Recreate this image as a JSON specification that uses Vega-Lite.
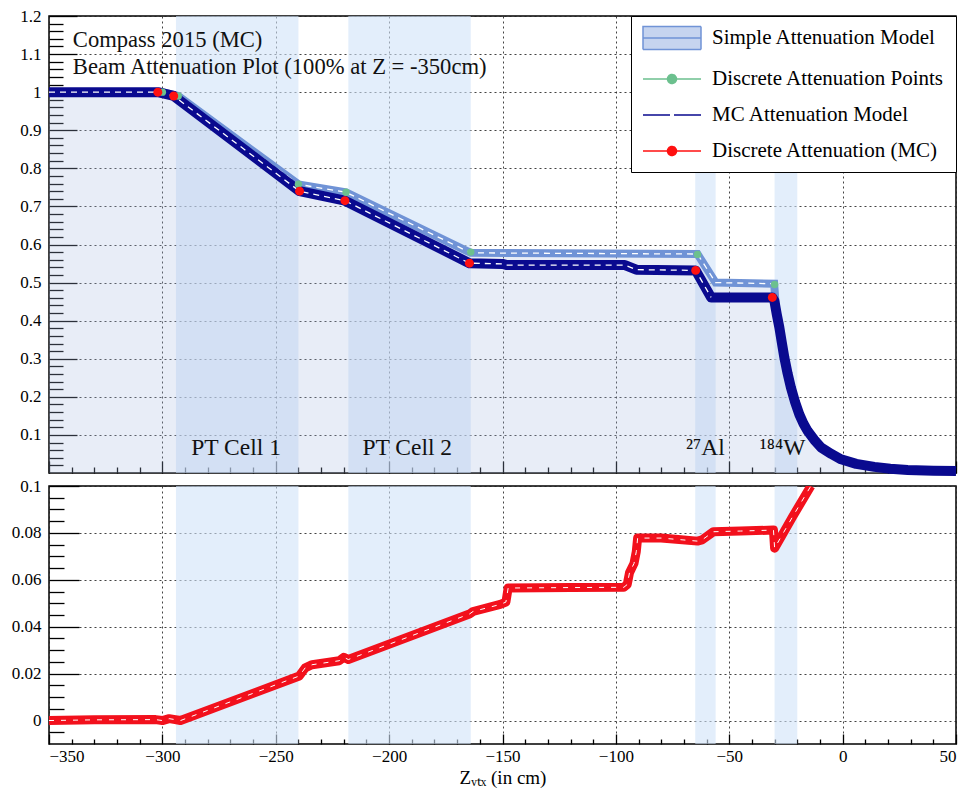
{
  "$schema": "https://vega.github.io/schema/vega-lite/v6.json",
  "padding": {"left": 0, "top": 6, "right": 0, "bottom": 0},
  "spacing": 13,
  "bounds": "flush",
  "config": {
    "font": "Liberation Serif",
    "view": {"stroke": "black", "strokeWidth": 1.5},
    "axis": {"domain": false, "tickColor": "black", "tickWidth": 1.3, "labelColor": "black", "labelFontSize": 17, "labelFont": "Liberation Serif", "titleFont": "Liberation Serif", "gridColor": "#222222", "gridDash": [2, 3], "gridWidth": 1, "gridOpacity": 0.85, "title": null}
  },
  "datasets": {
    "bands": [
      {"x1": -294, "x2": -240},
      {"x1": -218, "x2": -164},
      {"x1": -65, "x2": -56},
      {"x1": -30, "x2": -20}
    ],
    "simple": [
      {"x": -350, "y": 1.0},
      {"x": -300, "y": 1.0},
      {"x": -293, "y": 0.99},
      {"x": -240, "y": 0.758},
      {"x": -219, "y": 0.737},
      {"x": -164, "y": 0.578},
      {"x": -64, "y": 0.575},
      {"x": -56, "y": 0.5},
      {"x": -30.2, "y": 0.497},
      {"x": -29.5, "y": 0.44},
      {"x": -29, "y": 0.415},
      {"x": -27.9, "y": 0.382},
      {"x": -26.8, "y": 0.342},
      {"x": -25.7, "y": 0.303},
      {"x": -24.3, "y": 0.262},
      {"x": -22.8, "y": 0.224},
      {"x": -21, "y": 0.187},
      {"x": -19.1, "y": 0.154},
      {"x": -17.3, "y": 0.13},
      {"x": -15.4, "y": 0.11},
      {"x": -12.5, "y": 0.087},
      {"x": -9.5, "y": 0.067},
      {"x": -5, "y": 0.05},
      {"x": -0.7, "y": 0.036},
      {"x": 6, "y": 0.024},
      {"x": 14, "y": 0.016},
      {"x": 21, "y": 0.011},
      {"x": 28.7, "y": 0.008},
      {"x": 40, "y": 0.006},
      {"x": 50, "y": 0.005}
    ],
    "mc": [
      {"x": -350, "y": 1.0},
      {"x": -302, "y": 1.0},
      {"x": -295, "y": 0.99},
      {"x": -239.5, "y": 0.74},
      {"x": -219.5, "y": 0.715},
      {"x": -164.6, "y": 0.551},
      {"x": -150, "y": 0.549},
      {"x": -148, "y": 0.546},
      {"x": -96, "y": 0.546},
      {"x": -91, "y": 0.534},
      {"x": -64.8, "y": 0.532},
      {"x": -58, "y": 0.461},
      {"x": -31, "y": 0.461},
      {"x": -30.1, "y": 0.452},
      {"x": -29, "y": 0.415},
      {"x": -27.9, "y": 0.382},
      {"x": -26.8, "y": 0.342},
      {"x": -25.7, "y": 0.303},
      {"x": -24.3, "y": 0.262},
      {"x": -22.8, "y": 0.224},
      {"x": -21, "y": 0.187},
      {"x": -19.1, "y": 0.154},
      {"x": -17.3, "y": 0.13},
      {"x": -15.4, "y": 0.11},
      {"x": -12.5, "y": 0.087},
      {"x": -9.5, "y": 0.067},
      {"x": -5, "y": 0.05},
      {"x": -0.7, "y": 0.036},
      {"x": 6, "y": 0.024},
      {"x": 14, "y": 0.016},
      {"x": 21, "y": 0.011},
      {"x": 28.7, "y": 0.008},
      {"x": 40, "y": 0.006},
      {"x": 50, "y": 0.005}
    ],
    "greenPts": [
      {"x": -300, "y": 1.0},
      {"x": -293, "y": 0.99},
      {"x": -240, "y": 0.758},
      {"x": -219, "y": 0.737},
      {"x": -164, "y": 0.58},
      {"x": -64, "y": 0.574},
      {"x": -30, "y": 0.495}
    ],
    "redPts": [
      {"x": -302, "y": 1.0},
      {"x": -295, "y": 0.99},
      {"x": -239.5, "y": 0.74},
      {"x": -219.5, "y": 0.715},
      {"x": -164.6, "y": 0.551},
      {"x": -64.8, "y": 0.532},
      {"x": -31, "y": 0.461}
    ],
    "labels": [
      {"x": -267.5, "y": 0.066, "text": "PT Cell 1"},
      {"x": -192, "y": 0.066, "text": "PT Cell 2"},
      {"x": -60.5, "y": 0.066, "text": "²⁷Al"},
      {"x": -26.5, "y": 0.066, "text": "¹⁸⁴W"}
    ],
    "titles": [
      {"x": -339.5, "y": 1.137, "text": "Compass 2015 (MC)"},
      {"x": -339.5, "y": 1.066, "text": "Beam Attenuation Plot (100% at Z = -350cm)"}
    ],
    "ratio": [
      {"x": -350, "y": 0.0},
      {"x": -330, "y": 0.0003},
      {"x": -303, "y": 0.0004},
      {"x": -300, "y": 0.0},
      {"x": -297, "y": 0.0008},
      {"x": -295, "y": 0.0005},
      {"x": -292, "y": 0.0},
      {"x": -239.6, "y": 0.019},
      {"x": -237, "y": 0.0225},
      {"x": -234, "y": 0.0238},
      {"x": -222, "y": 0.0255},
      {"x": -220, "y": 0.027},
      {"x": -218, "y": 0.026},
      {"x": -164.6, "y": 0.0454},
      {"x": -163, "y": 0.0465},
      {"x": -151, "y": 0.0495},
      {"x": -148.5, "y": 0.0505},
      {"x": -147.5, "y": 0.0565},
      {"x": -120, "y": 0.0567},
      {"x": -96.5, "y": 0.0568},
      {"x": -95, "y": 0.058},
      {"x": -94, "y": 0.063},
      {"x": -92, "y": 0.067},
      {"x": -91, "y": 0.072},
      {"x": -90.4, "y": 0.0778},
      {"x": -80, "y": 0.0778},
      {"x": -64, "y": 0.0765},
      {"x": -62, "y": 0.077},
      {"x": -57, "y": 0.0805},
      {"x": -45, "y": 0.0808},
      {"x": -30.5, "y": 0.0812},
      {"x": -30, "y": 0.0735},
      {"x": -22, "y": 0.087},
      {"x": -14, "y": 0.1}
    ]
  },
  "vconcat": [
    {
      "width": 907,
      "height": 457,
      "resolve": {"axis": {"x": "independent", "y": "independent"}},
      "layer": [
        {
          "data": {"name": "bands"},
          "mark": {"type": "rect", "color": "#d0e3f8", "opacity": 0.6},
          "encoding": {
            "x": {"field": "x1", "type": "quantitative", "scale": {"domain": [-350, 50], "nice": false, "zero": false}, "axis": null},
            "x2": {"field": "x2"}
          }
        },
        {
          "data": {"name": "simple"},
          "mark": {"type": "area", "color": "#a5b8e2", "opacity": 0.26},
          "encoding": {
            "x": {"field": "x", "type": "quantitative", "scale": {"domain": [-350, 50], "nice": false, "zero": false},
              "axis": {"orient": "bottom", "values": [-350, -300, -250, -200, -150, -100, -50, 0, 50], "tickSize": -12, "labels": false, "grid": true}},
            "y": {"field": "y", "type": "quantitative", "scale": {"domain": [0, 1.2], "nice": false},
              "axis": {"orient": "left", "values": [0.1, 0.2, 0.3, 0.4, 0.5, 0.6, 0.7, 0.8, 0.9, 1, 1.1, 1.2], "format": "~g", "tickSize": -28, "labelPadding": 36, "labelFont": "Liberation Serif", "labelFontSize": 17, "grid": true, "minExtent": 48, "maxExtent": 48}}
          }
        },
        {
          "data": {"name": "simple"},
          "mark": {"type": "line", "strokeWidth": 8},
          "encoding": {
            "x": {"field": "x", "type": "quantitative",
              "axis": {"orient": "bottom", "values": [-340, -330, -320, -310, -290, -280, -270, -260, -240, -230, -220, -210, -190, -180, -170, -160, -140, -130, -120, -110, -90, -80, -70, -60, -40, -30, -20, -10, 10, 20, 30, 40], "tickSize": -6, "labels": false, "grid": false}},
            "y": {"field": "y", "type": "quantitative",
              "axis": {"orient": "left", "values": [0.02, 0.04, 0.06, 0.08, 0.12, 0.14, 0.16, 0.18, 0.22, 0.24, 0.26, 0.28, 0.32, 0.34, 0.36, 0.38, 0.42, 0.44, 0.46, 0.48, 0.52, 0.54, 0.56, 0.58, 0.62, 0.64, 0.66, 0.68, 0.72, 0.74, 0.76, 0.78, 0.82, 0.84, 0.86, 0.88, 0.92, 0.94, 0.96, 0.98, 1.02, 1.04, 1.06, 1.08, 1.12, 1.14, 1.16, 1.18], "tickSize": -14, "labels": false, "grid": false, "minExtent": 48, "maxExtent": 48}},
            "color": {
              "datum": "Simple Attenuation Model",
              "type": "nominal",
              "scale": {
                "domain": ["Simple Attenuation Model", "Discrete Attenuation Points", "MC Attenuation Model", "Discrete Attenuation (MC)"],
                "range": ["#7093d6", "#6cc08e", "#0a0a8f", "#ff1010"]
              },
              "legend": {
                "title": null,
                "orient": "top-right",
                "offset": 0,
                "padding": 11,
                "strokeColor": "black",
                "fillColor": "white",
                "labelFont": "Liberation Serif",
                "labelFontSize": 21,
                "labelColor": "black",
                "labelLimit": 400,
                "symbolSize": 400,
                "symbolOffset": 19,
                "labelOffset": 29,
                "rowPadding": 15,
                "encode": {
                  "symbols": {
                    "enter": {
                      "fill": {"signal": "datum.value === 'Simple Attenuation Model' ? '#cdd9f1' : datum.value === 'Discrete Attenuation Points' ? '#6cc08e' : datum.value === 'MC Attenuation Model' ? 'transparent' : '#ff1010'"}
                    },
                    "update": {
                      "shape": {"signal": "datum.value === 'Simple Attenuation Model' ? 'M-2.9,-1.15H2.9V1.15H-2.9ZM-2.9,0H2.9' : datum.value === 'MC Attenuation Model' ? 'M-2.9,0H2.9' : 'M-2.9,0H2.9M-0.45,0A0.45,0.45 0 1,1 0.45,0A0.45,0.45 0 1,1 -0.45,0Z'"},
                      "fill": {"signal": "datum.value === 'Simple Attenuation Model' ? '#cdd9f1' : datum.value === 'Discrete Attenuation Points' ? '#6cc08e' : datum.value === 'MC Attenuation Model' ? 'transparent' : '#ff1010'"},
                      "stroke": {"signal": "datum.value === 'Simple Attenuation Model' ? '#8aa5e0' : datum.value === 'Discrete Attenuation Points' ? '#6cc08e' : datum.value === 'MC Attenuation Model' ? '#2323cc' : '#ff5a4a'"},
                      "strokeWidth": {"value": 1.5},
                      "strokeDash": {"signal": "datum.value === 'MC Attenuation Model' ? [27, 4] : [1, 0]"},
                      "opacity": {"value": 1},
                      "fillOpacity": {"signal": "datum.value === 'Simple Attenuation Model' ? 0.4 : 1"}
                    }
                  }
                }
              }
            }
          }
        },
        {
          "data": {"name": "simple"},
          "mark": {"type": "line", "strokeWidth": 1.3, "color": "white", "strokeDash": [6, 5]},
          "transform": [{"filter": "datum.x < -30"}],
          "encoding": {
            "x": {"field": "x", "type": "quantitative", "axis": null},
            "y": {"field": "y", "type": "quantitative", "axis": null}
          }
        },
        {
          "data": {"name": "mc"},
          "mark": {"type": "line", "strokeWidth": 10, "strokeJoin": "round"},
          "encoding": {
            "x": {"field": "x", "type": "quantitative", "axis": null},
            "y": {"field": "y", "type": "quantitative", "axis": null},
            "color": {"datum": "MC Attenuation Model", "type": "nominal"}
          }
        },
        {
          "data": {"name": "mc"},
          "mark": {"type": "line", "strokeWidth": 1.3, "color": "white", "strokeDash": [6, 5]},
          "transform": [{"filter": "datum.x < -31"}],
          "encoding": {
            "x": {"field": "x", "type": "quantitative", "axis": null},
            "y": {"field": "y", "type": "quantitative", "axis": null}
          }
        },
        {
          "data": {"name": "greenPts"},
          "mark": {"type": "point", "filled": true, "size": 55, "opacity": 1},
          "encoding": {
            "x": {"field": "x", "type": "quantitative", "axis": null},
            "y": {"field": "y", "type": "quantitative", "axis": null},
            "color": {"datum": "Discrete Attenuation Points", "type": "nominal"}
          }
        },
        {
          "data": {"name": "redPts"},
          "mark": {"type": "point", "filled": true, "size": 80, "opacity": 1},
          "encoding": {
            "x": {"field": "x", "type": "quantitative", "axis": null},
            "y": {"field": "y", "type": "quantitative", "axis": null},
            "color": {"datum": "Discrete Attenuation (MC)", "type": "nominal"}
          }
        },
        {
          "data": {"name": "labels"},
          "mark": {"type": "text", "fontSize": 23.5, "color": "#111111", "align": "center", "baseline": "middle"},
          "encoding": {
            "x": {"field": "x", "type": "quantitative", "axis": null},
            "y": {"field": "y", "type": "quantitative", "axis": null},
            "text": {"field": "text"}
          }
        },
        {
          "data": {"name": "titles"},
          "mark": {"type": "text", "fontSize": 22.6, "color": "#111111", "align": "left", "baseline": "middle"},
          "encoding": {
            "x": {"field": "x", "type": "quantitative", "axis": null},
            "y": {"field": "y", "type": "quantitative", "axis": null},
            "text": {"field": "text"}
          }
        }
      ]
    },
    {
      "width": 907,
      "height": 258,
      "resolve": {"axis": {"x": "independent", "y": "independent"}},
      "layer": [
        {
          "data": {"name": "bands"},
          "mark": {"type": "rect", "color": "#d0e3f8", "opacity": 0.6},
          "encoding": {
            "x": {"field": "x1", "type": "quantitative", "scale": {"domain": [-350, 50], "nice": false, "zero": false}, "axis": null},
            "x2": {"field": "x2"}
          }
        },
        {
          "data": {"name": "ratio"},
          "mark": {"type": "line", "strokeWidth": 9, "color": "#f2101c", "clip": true, "strokeJoin": "round"},
          "encoding": {
            "x": {"field": "x", "type": "quantitative", "scale": {"domain": [-350, 50], "nice": false, "zero": false},
              "axis": {"orient": "bottom", "values": [-350, -300, -250, -200, -150, -100, -50, 0, 50], "tickSize": -10, "labelPadding": 14, "grid": true, "labelFont": "Liberation Serif", "labelFontSize": 17, "title": "Zᵥₜₓ (in cm)", "titleFont": "Liberation Serif", "titleFontSize": 19, "titleFontWeight": "normal", "titleColor": "black", "titlePadding": 4}},
            "y": {"field": "y", "type": "quantitative", "scale": {"domain": [-0.01, 0.1], "nice": false, "zero": false},
              "axis": {"orient": "left", "values": [0, 0.02, 0.04, 0.06, 0.08, 0.1], "format": "~g", "tickSize": -30, "labelPadding": 38, "labelFont": "Liberation Serif", "labelFontSize": 17, "grid": true, "minExtent": 48, "maxExtent": 48}}
          }
        },
        {
          "data": {"name": "ratio"},
          "mark": {"type": "line", "strokeWidth": 1, "color": "white", "strokeDash": [5, 7], "clip": true},
          "encoding": {
            "x": {"field": "x", "type": "quantitative",
              "axis": {"orient": "bottom", "values": [-340, -330, -320, -310, -290, -280, -270, -260, -240, -230, -220, -210, -190, -180, -170, -160, -140, -130, -120, -110, -90, -80, -70, -60, -40, -30, -20, -10, 10, 20, 30, 40], "tickSize": -5, "labels": false, "grid": false, "title": null}},
            "y": {"field": "y", "type": "quantitative",
              "axis": {"orient": "left", "values": [-0.005, 0.005, 0.01, 0.015, 0.025, 0.03, 0.035, 0.045, 0.05, 0.055, 0.065, 0.07, 0.075, 0.085, 0.09, 0.095], "tickSize": -15, "labels": false, "grid": false, "minExtent": 48, "maxExtent": 48}}
          }
        }
      ]
    }
  ]
}
